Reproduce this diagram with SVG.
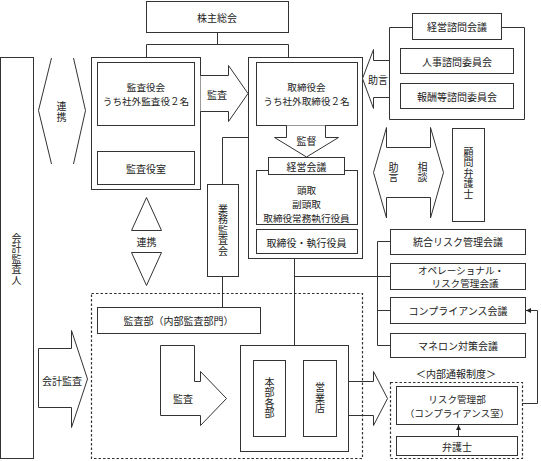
<svg xmlns="http://www.w3.org/2000/svg" width="541" height="461" viewBox="0 0 541 461">
<style>
.b{fill:#fff;stroke:#333;stroke-width:1}
.n{fill:none;stroke:#333;stroke-width:1}
.d{fill:none;stroke:#333;stroke-width:1.2;stroke-dasharray:2.5,2}
text{font-family:"Noto Sans CJK JP","Noto Sans",sans-serif;font-size:10px;fill:#222;text-anchor:middle;dominant-baseline:central}
.v{writing-mode:vertical-rl;letter-spacing:0.5px}
.m{font-size:9.6px}
</style>
<rect width="541" height="461" fill="#fff"/>
<defs>
<marker id="ah" viewBox="0 0 6 6" refX="6" refY="3" markerWidth="5" markerHeight="5" orient="auto"><path d="M0,0L6,3L0,6z" fill="#222"/></marker>
</defs>

<g id="connectors" class="n">
<path class="n" d="M217.5,32V44.5M146.5,57V44.5H288.5V57"/>
<path class="n" d="M146.5,125V151"/>
<path class="n" d="M269.5,125V137.5H222.5V184"/>
<path class="n" d="M222.5,276V307"/>
<path class="n" d="M294.5,258V345M294.5,276.5H390"/>
<path class="n" d="M377.5,241.5V345.5M377.5,241.5H390M377.5,310.5H390M377.5,345.5H390"/>
<path class="n" d="M458.5,436V425" marker-end="url(#ah)"/>
<path class="n" d="M522,403.5H537.5V310.5H526" marker-end="url(#ah)"/>
</g>

<g id="kabunushi"><rect class="b" x="146.5" y="1.5" width="142" height="31"/><text x="217" y="17">株主総会</text></g>

<g id="kaikei-kansanin"><rect class="b" x="0.5" y="57.5" width="33" height="401"/>
<text class="v" x="16.5" y="259">会計監査人</text></g>

<g id="renkei-left"><path class="n" d="M51.5,58L38.5,110.5L51.5,164M73.5,58L85.5,110.5L73.5,164"/>
<text class="v" x="61.5" y="112">連携</text></g>

<g id="kansayaku-group"><rect class="b" x="91.5" y="57.5" width="109" height="132"/>
<g id="kansayakukai"><rect class="b" x="97.5" y="62.5" width="97" height="63"/><text class="m"><tspan x="146" y="87">監査役会</tspan><tspan x="146" y="101">うち社外監査役２名</tspan></text></g>
<g id="kansayakushitsu"><rect class="b" x="97.5" y="151.5" width="97" height="33"/><text x="146" y="168">監査役室</text></g>
</g>

<g id="arrow-kansa"><path class="b" d="M200.5,75.5H228.5V65.5L248,93.5L228.5,121.5V111.5H200.5"/><text x="217" y="94">監査</text></g>

<g id="board-group"><rect class="b" x="248.5" y="57.5" width="114" height="201"/>
<g id="torishimariyakukai"><rect class="b" x="256.5" y="62.5" width="101" height="63"/><text class="m"><tspan x="306.5" y="87">取締役会</tspan><tspan x="306.5" y="101">うち社外取締役２名</tspan></text></g>
<g id="arrow-kantoku"><path class="b" d="M286.5,125.5V137.5H274.5L306.5,157L338.5,137.5H325.5V125.5"/><text x="306.5" y="140">監督</text></g>
<g id="executives"><rect class="b" x="256.5" y="170.5" width="101" height="54"/>
<text class="m"><tspan x="306.5" y="189.5">頭取</tspan><tspan x="306.5" y="203.5">副頭取</tspan><tspan x="306.5" y="217.5">取締役常務執行役員</tspan></text></g>
<g id="keiei-kaigi"><rect class="b" x="268.5" y="157.5" width="76" height="17"/><text x="306.5" y="166">経営会議</text></g>
<g id="torishimariyaku-shikkoyakuin"><rect class="b" x="256.5" y="229.5" width="101" height="24"/><text x="306.5" y="242">取締役・執行役員</text></g>
</g>

<g id="arrow-jogen"><path class="b" d="M389.5,60.5H373.5V49.5L362.5,78.5L373.5,108.5V97.5H389.5"/><text x="378" y="79">助言</text></g>

<g id="keiei-shimon"><path class="n" d="M412,27.5H389.5V119.5H524.5V27.5H501"/>
<rect class="b" x="412.5" y="13.5" width="89" height="26"/><text x="457" y="26.5">経営諮問会議</text>
<g id="jinji"><rect class="b" x="400.5" y="48.5" width="113" height="25"/><text x="457" y="61">人事諮問委員会</text></g>
<g id="hoshu"><rect class="b" x="400.5" y="83.5" width="113" height="25"/><text x="457" y="96">報酬等諮問委員会</text></g>
</g>

<g id="arrow-jogen-sodan"><path class="b" d="M386.5,127.5V147.5H430.5V127.5L443.5,172.5L430.5,218V197.5H386.5V218L373.5,172.5Z"/>
<text class="v" x="393.5" y="172.5">助言</text>
<text class="v" x="422.5" y="172.5">相談</text></g>

<g id="komon-bengoshi"><rect class="b" x="452.5" y="128.5" width="32" height="93"/>
<text class="v" x="468.5" y="173">顧問弁護士</text></g>

<g id="renkei-vertical"><path class="b" d="M131.5,230.5L146.5,197.5L161.5,230.5Z"/><path class="b" d="M131.5,252.5H161.5L146.5,285.5Z"/><text x="146.5" y="241.5">連携</text></g>

<g id="gyomu-kansakai"><rect class="b" x="207.5" y="184.5" width="31" height="92"/>
<text class="v" x="223" y="230">業務監査会</text></g>

<g id="togo-risk"><rect class="b" x="390.5" y="229.5" width="135" height="25"/><text x="458" y="241.5">統合リスク管理会議</text></g>
<g id="operational-risk"><rect class="b" x="390.5" y="263.5" width="135" height="26"/><text class="m"><tspan x="461" y="269.5">オペレーショナル・</tspan><tspan x="465" y="283">リスク管理会議</tspan></text></g>
<g id="compliance-kaigi"><rect class="b" x="390.5" y="297.5" width="135" height="26"/><text x="458" y="310.5">コンプライアンス会議</text></g>
<g id="maneron"><rect class="b" x="390.5" y="333.5" width="135" height="24"/><text x="458" y="345.5">マネロン対策会議</text></g>

<g id="internal-audit-area"><rect class="d" x="91.5" y="293.5" width="271" height="165"/></g>
<g id="kansabu"><rect class="b" x="97.5" y="307.5" width="163" height="26"/><text x="178.5" y="320.5">監査部（内部監査部門）</text></g>

<g id="arrow-kaikei-kansa"><path class="b" d="M38.5,348.5H71.5V330.5L87.5,379L71.5,427.5V407.5H38.5Z"/><text x="62" y="380">会計監査</text></g>

<g id="arrow-naibu-kansa"><path class="b" d="M160.5,345.5H194.5V381.5H200.5V371.5L226.5,398.5L200.5,425.5V415.5H160.5Z"/><text x="183" y="398.5">監査</text></g>

<g id="honbu-group"><rect class="b" x="240.5" y="345.5" width="108" height="106"/>
<g id="honbu-kakubu"><rect class="b" x="253.5" y="360.5" width="32" height="76"/>
<text class="v" x="269.5" y="398">本部各部</text></g>
<g id="eigyoten"><rect class="b" x="303.5" y="360.5" width="33" height="76"/>
<text class="v" x="320" y="398">営業店</text></g>
</g>

<g id="arrow-tsuho"><path class="n" d="M348.5,381.5H373.5V371.5L387.5,398.5L373.5,425.5V415.5H348.5"/></g>

<g id="naibu-tsuho"><text x="456" y="373">＜内部通報制度＞</text><rect class="d" x="390.5" y="382.5" width="132" height="76"/>
<g id="risk-kanribu"><rect class="b" x="396.5" y="386.5" width="121" height="38"/><text class="m"><tspan x="457" y="398.5">リスク管理部</tspan><tspan x="457" y="412.5">（コンプライアンス室）</tspan></text></g>
<g id="bengoshi"><rect class="b" x="396.5" y="436.5" width="121" height="19"/><text x="457" y="446">弁護士</text></g>
</g>
</svg>
